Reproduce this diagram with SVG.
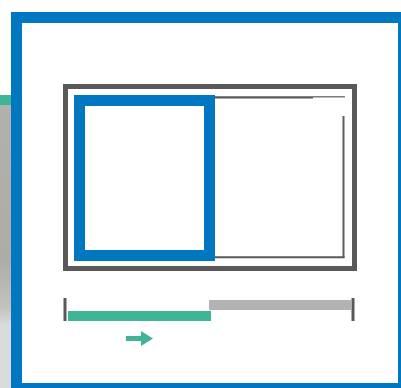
<svg xmlns="http://www.w3.org/2000/svg" width="401" height="388" viewBox="0 0 401 388">
<defs>
<style>
.blue{fill:none;stroke:#0077c1;stroke-width:11}
.dark{fill:none;stroke:#595959}
</style>
<linearGradient id="bg" x1="0" y1="0" x2="0" y2="1">
<stop offset="0" stop-color="#b3b1ab"/>
<stop offset="0.7" stop-color="#aeaca6"/>
<stop offset="0.92" stop-color="#c4c2bd"/>
<stop offset="1" stop-color="#d9dbdd"/>
</linearGradient>
</defs>
<rect width="401" height="388" fill="#ffffff"/>
<g id="background">
<rect x="0" y="95" width="12" height="10" fill="#3fb497"/>
<rect x="0" y="105" width="12" height="220" fill="url(#bg)"/>
<rect x="0" y="325" width="12" height="63" fill="#d9dbdd"/>
</g>
<g id="outer-frame">
<rect class="blue" x="16.5" y="17.5" width="387" height="371"/>
</g>
<g id="window">
<rect class="dark" x="65.5" y="86.5" width="289" height="182" stroke-width="5"/>
</g>
<g id="inner-pane">
<rect class="blue" x="79.5" y="100.5" width="130" height="155"/>
</g>
<g id="sliding-pane">
<line x1="215" y1="97.3" x2="313" y2="97.3" stroke="#595959" stroke-width="2.2"/>
<line x1="313" y1="96.8" x2="345" y2="96.8" stroke="#666666" stroke-width="1.3"/>
<line x1="343.5" y1="116" x2="343.5" y2="258" stroke="#5e5e5e" stroke-width="2"/>
<line x1="215" y1="257.3" x2="344.5" y2="257.3" stroke="#595959" stroke-width="2"/>
</g>
<g id="connectors">
<rect x="63.5" y="298" width="3" height="23" fill="#595959"/>
<rect x="351.5" y="298" width="3" height="23" fill="#595959"/>
<rect x="209" y="300" width="142" height="10" fill="#b3b3b3"/>
<rect x="68" y="311" width="143" height="10" fill="#3fb497"/>
<path d="M126,336 H141 V331 L153,338.5 L141,346 V341 H126 Z" fill="#3fb497"/>
</g>
</svg>
